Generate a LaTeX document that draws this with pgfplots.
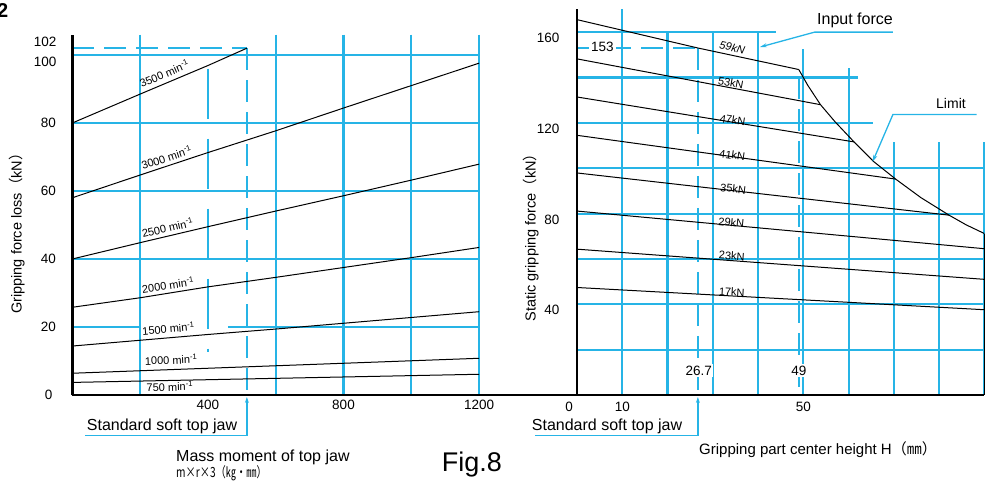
\documentclass[border=0pt]{standalone}
\usepackage{pgfplots}
\pgfplotsset{compat=1.18}
\usetikzlibrary{arrows.meta}
\usepackage{fontspec}
\setmainfont{Liberation Sans}
\newfontfamily\cjk{Noto Sans CJK JP}
\newfontfamily\cjkc[FakeStretch=0.73]{Noto Sans CJK JP}
\definecolor{cy}{RGB}{38,180,230}
\begin{document}
\begin{tikzpicture}[
  g/.style={cy, line width=2.1pt},
  gd/.style={cy, line width=2.1pt, dash pattern=on 22pt off 10pt},
  crv/.style={black, line width=1pt},
  ax/.style={black, line width=2.6pt},
  lbl/.style={font=\fontsize{11}{13}\selectfont, inner sep=0pt},
  ann/.style={cy, line width=1.3pt},
]
\useasboundingbox (0pt,0pt) rectangle (990pt,483pt);

% ---------------- left panel ----------------
\begin{axis}[
  at={(72.3pt,88pt)}, anchor=south west,
  x=0.339pt, y=3.4pt,
  xmin=0, xmax=1200, ymin=0, ymax=106,
  axis line style={draw=none},
  major tick length=0pt,
  xtick={400,800,1200}, ytick={20,40,60,80},
  clip=false,
  tick label style={font=\fontsize{13.5}{16}\selectfont},
  /pgf/number format/assume math mode=true,
  /pgf/number format/1000 sep={},
  yticklabel style={xshift=-13pt},
  xticklabel style={yshift=-2pt},
]
% grid
\draw[g] (axis cs:0,20) -- (axis cs:200,20);
\draw[g] (axis cs:459,20) -- (axis cs:1200,20);
\draw[g] (axis cs:0,40) -- (axis cs:1200,40);
\draw[g] (axis cs:0,60) -- (axis cs:1200,60);
\draw[g] (axis cs:0,80) -- (axis cs:1200,80);
\draw[g] (axis cs:0,100) -- (axis cs:1200,100);
\draw[gd] (axis cs:0,102) -- (axis cs:515,102);
\draw[g] (axis cs:200,106) -- (axis cs:200,0);
\draw[g] (axis cs:600,106) -- (axis cs:600,0);
\draw[g] (axis cs:800,106) -- (axis cs:800,0);
\draw[g] (axis cs:1000,106) -- (axis cs:1000,0);
\draw[g] (axis cs:1200,106) -- (axis cs:1200,0);
\draw[cy, line width=2.1pt, dash pattern=on 50pt off 20pt] (axis cs:400,96) -- (axis cs:400,12.6);
\draw[gd] (axis cs:515,102) -- (axis cs:515,0);
% curves
\addplot[crv] coordinates {(0,80) (200,88.5) (400,96.9) (515,102)};
\addplot[crv] coordinates {(0,58) (200,64.7) (400,71.3) (600,77.7) (800,84.4) (1000,91) (1200,97.6)};
\addplot[crv] coordinates {(0,40) (200,44.8) (400,49.5) (600,54.1) (800,58.6) (1000,63.2) (1200,67.9)};
\addplot[crv] coordinates {(0,25.8) (200,28.6) (400,31.8) (600,34.6) (800,37.5) (1000,40.4) (1200,43.4)};
\addplot[crv] coordinates {(0,14.4) (200,16.1) (400,17.8) (600,19.4) (800,21.1) (1000,22.8) (1200,24.5)};
\addplot[crv] coordinates {(0,6.4) (600,8.6) (1200,10.8)};
\addplot[crv] coordinates {(0,3.7) (600,4.9) (1200,6.1)};
% curve labels
\node[lbl, rotate=23, anchor=base west] at (axis cs:205,90.3) {3500 min\textsuperscript{-1}};
\node[lbl, rotate=18.3, anchor=base west] at (axis cs:208,66.2) {3000 min\textsuperscript{-1}};
\node[lbl, rotate=13, anchor=base west] at (axis cs:208,46.2) {2500 min\textsuperscript{-1}};
\node[lbl, rotate=8.4, anchor=base west] at (axis cs:207,29.9) {2000 min\textsuperscript{-1}};
\node[lbl, rotate=4.8, anchor=base west] at (axis cs:207,17.6) {1500 min\textsuperscript{-1}};
\node[lbl, rotate=2.1, anchor=base west] at (axis cs:214,8.8) {1000 min\textsuperscript{-1}};
\node[lbl, rotate=1.2, anchor=base west] at (axis cs:219,1.0) {750 min\textsuperscript{-1}};
% axis lines
\draw[ax] (axis cs:0,0) -- (axis cs:0,106);
\draw[ax] (axis cs:0,0) -- (axis cs:1500,0);
% standard soft top jaw arrow
\draw[ann, -{Stealth[length=6pt,width=4pt]}] (axis cs:515,-12) -- (axis cs:515,-0.6);
\draw[ann] (axis cs:515,-12) -- (axis cs:37,-12);
\end{axis}

% ---------------- right panel ----------------
\begin{axis}[
  at={(577pt,88pt)}, anchor=south west,
  x=4.526pt, y=2.268pt,
  xmin=0, xmax=90, ymin=0, ymax=170,
  axis line style={draw=none},
  major tick length=0pt,
  xtick={10,50}, ytick={40,80,120,160},
  extra x ticks={0},
  extra x tick style={xticklabel style={xshift=-8pt}},
  clip=false,
  tick label style={font=\fontsize{13.5}{16}\selectfont},
  /pgf/number format/assume math mode=true,
  yticklabel style={xshift=-14pt, yshift=-6pt},
  xticklabel style={yshift=-4pt},
]
% grid
\draw[g] (axis cs:0,20) -- (axis cs:90,20);
\draw[g] (axis cs:0,40) -- (axis cs:90,40);
\draw[g] (axis cs:0,60) -- (axis cs:90,60);
\draw[g] (axis cs:0,80) -- (axis cs:90,80);
\draw[g] (axis cs:0,100) -- (axis cs:90,100);
\draw[g] (axis cs:0,120) -- (axis cs:65.5,120);
\draw[g] (axis cs:0,140) -- (axis cs:62,140);
\draw[g] (axis cs:0,160) -- (axis cs:44,160);
\draw[g] (axis cs:10,170) -- (axis cs:10,0);
\draw[g] (axis cs:20,160) -- (axis cs:20,0);
\draw[g] (axis cs:30,160) -- (axis cs:30,0);
\draw[g] (axis cs:40,160) -- (axis cs:40,0);
\draw[g] (axis cs:50,152.4) -- (axis cs:50,0);
\draw[g] (axis cs:60,144) -- (axis cs:60,0);
\draw[g] (axis cs:70,111.5) -- (axis cs:70,0);
\draw[g] (axis cs:80,111.5) -- (axis cs:80,0);
\draw[g] (axis cs:90,111.5) -- (axis cs:90,0);
% dashed reference lines
\draw[gd] (axis cs:0,153) -- (axis cs:26.7,153);
\draw[gd] (axis cs:26.7,153) -- (axis cs:26.7,0);
\draw[gd] (axis cs:49,140) -- (axis cs:49,0);
\node[fill=white, inner sep=2pt, font=\fontsize{13.5}{16}\selectfont] at (axis cs:5.6,153.5) {153};
\node[fill=white, inner sep=1.5pt, font=\fontsize{13.5}{16}\selectfont] at (axis cs:26.9,10.7) {26.7};
\node[fill=white, inner sep=1.5pt, font=\fontsize{13.5}{16}\selectfont] at (axis cs:49,10.7) {49};
% curves
\addplot[crv] coordinates {(0,165.5) (26.7,153) (49,143.5)};
\addplot[crv] coordinates {(49,143.5) (51,136.5) (53.8,128) (57,120.5) (61.2,111.6) (65.5,103) (70.4,95.2) (76,87) (82.2,79.3) (86,75) (90,71.2)};
\addplot[crv] coordinates {(0,148.2) (53.8,128)};
\addplot[crv] coordinates {(0,131.4) (61.2,111.6)};
\addplot[crv] coordinates {(0,114.5) (70.4,95.2)};
\addplot[crv] coordinates {(0,97.9) (82.2,79.3)};
\addplot[crv] coordinates {(0,81.1) (90,64.5)};
\addplot[crv] coordinates {(0,64.3) (90,51)};
\addplot[crv] coordinates {(0,47.4) (90,37.6)};
% curve labels
\node[lbl, rotate=-12.9] at (axis cs:34.3,153.2) {\itshape 59kN};
\node[lbl, rotate=-10.5] at (axis cs:34.0,137.5) {53kN};
\node[lbl, rotate=-9.1] at (axis cs:34.4,121.2) {47kN};
\node[lbl, rotate=-7.8] at (axis cs:34.3,105.8) {41kN};
\node[lbl, rotate=-6.5] at (axis cs:34.5,91) {35kN};
\node[lbl, rotate=-5.3] at (axis cs:34.1,76) {29kN};
\node[lbl, rotate=-4.2] at (axis cs:34.2,61.3) {23kN};
\node[lbl, rotate=-3.1] at (axis cs:34.2,45.5) {17kN};
% annotations
\draw[ann, -{Stealth[length=7pt,width=4pt]}] (axis cs:69.8,160) -- (axis cs:52.5,160) -- (axis cs:40.4,153.4);
\draw[ann, -{Stealth[length=7pt,width=4pt]}] (axis cs:88.3,123.7) -- (axis cs:69.8,123.7) -- (axis cs:65.3,102.8);
% axis lines
\draw[ax] (axis cs:0,0) -- (axis cs:0,170);
\draw[ax] (axis cs:-23,0) -- (axis cs:90,0);
\draw[black, line width=1.6pt] (axis cs:90,71.2) -- (axis cs:90,0);
% standard soft top jaw arrow
\draw[ann, -{Stealth[length=6pt,width=4pt]}] (axis cs:26.7,-17.9) -- (axis cs:26.7,-0.9);
\draw[ann] (axis cs:26.7,-17.9) -- (axis cs:-9.3,-17.9);
\end{axis}

% ---------------- texts ----------------
\node[anchor=east, inner sep=0pt, font=\fontsize{13.5}{16}\selectfont] at (52.5pt,88pt) {0};
\node[anchor=east, inner sep=0pt, font=\fontsize{13.5}{16}\selectfont] at (56.7pt,421pt) {100};
\node[anchor=east, inner sep=0pt, font=\fontsize{13.5}{16}\selectfont] at (56.7pt,440.7pt) {102};
\node[rotate=90, font=\fontsize{14.5}{17}\selectfont] at (17pt,253pt) {Gripping force loss{\cjk （}kN{\cjk ）}};
\node[rotate=90, font=\fontsize{14.5}{17}\selectfont] at (531pt,249pt) {Static gripping force{\cjk （}kN{\cjk ）}};
\node[anchor=base west, inner sep=0pt, font=\fontsize{16}{19}\selectfont] at (86.7pt,53pt) {Standard soft top jaw};
\node[anchor=base west, inner sep=0pt, font=\fontsize{16}{19}\selectfont] at (531.7pt,53pt) {Standard soft top jaw};
\node[anchor=base west, inner sep=0pt, font=\fontsize{16}{19}\selectfont] at (176pt,21.5pt) {Mass moment of top jaw};
\node[anchor=base west, inner sep=0pt, font=\fontsize{14}{17}\selectfont] at (176pt,5.5pt) {\cjkc m×r×3（㎏・㎜）};
\node[anchor=base west, inner sep=0pt, font=\fontsize{15}{18}\selectfont] at (699pt,28.5pt) {Gripping part center height H{\cjk （㎜）}};
\node[anchor=base west, inner sep=0pt, font=\fontsize{27}{32}\selectfont] at (441.7pt,11.5pt) {Fig.8};
\node[anchor=base west, inner sep=0pt, font=\fontsize{16}{19}\selectfont] at (817pt,458pt) {Input force};
\node[anchor=base west, inner sep=0pt, font=\fontsize{14}{17}\selectfont] at (936pt,374.7pt) {Limit};
\node[anchor=base east, inner sep=0pt, font=\fontsize{20}{24}\selectfont\bfseries] at (8.5pt,465pt) {2};
\end{tikzpicture}
\end{document}
